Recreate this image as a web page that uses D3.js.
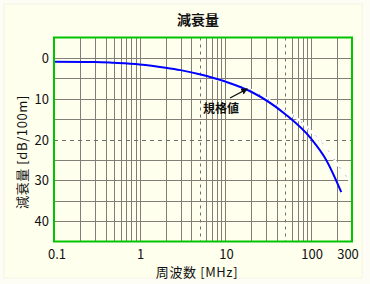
<!DOCTYPE html>
<html>
<head>
<meta charset="utf-8">
<script src="https://cdn.jsdelivr.net/npm/d3@7"></script>
<style>
  body { margin: 0; background: #fdfdf6; }
  svg { display: block; font-family: "Noto Sans CJK JP", "DejaVu Sans", sans-serif; }
</style>
</head>
<body>
<div id="chart"></div>
<script>
// measured attenuation [MHz, dB/100m]
var freq = [0.1, 0.3, 0.5, 1, 2, 3, 5, 10, 20, 50, 100, 150, 225];
var atten = [0.95, 1.0, 1.2, 1.6, 2.4, 3.0, 4.0, 5.8, 8.3, 13.8, 19.8, 25.0, 32.9];
// spec value line
var specFreq = [7, 10, 20, 30, 50, 70, 100, 150, 200, 300];
var specAtten = [5.0, 5.8, 7.9, 9.9, 13.0, 15.0, 18.0, 22.0, 25.9, 30.8];

var xTicks = [0.1, 1, 10, 100, 300];
var xTickLabels = ["0.1", "1", "10", "100", "300"];
var yTicks = [0, 10, 20, 30, 40];

var width = 370, height = 284;
var pLeft = 54, pRight = 352, pTop = 37.5, pBottom = 241.5;

var svg = d3.select("#chart").append("svg")
    .attr("width", width)
    .attr("height", height);

svg.append("rect")
    .attr("x", 4).attr("y", 4)
    .attr("width", 358).attr("height", 274)
    .attr("fill", "#ffffee")
    .attr("stroke", "#f4f4e4");

var x = d3.scaleLog().domain([0.1, 300]).range([pLeft, pRight]);
var y = d3.scaleLinear().domain([-5, 45]).range([pTop, pBottom]);

// vertical grid
var vgrid = [];
[0.1, 1, 10, 100].forEach(function(dec){
  for(var k=1;k<10;k++){ var v = dec*k; if(v > 0.1 && v < 300) vgrid.push(v); }
});
svg.selectAll(".vgrid")
    .data(vgrid)
  .enter().append("line")
    .attr("class", "vgrid")
    .attr("x1", function(d){return Math.round(x(d)) + 0.5;})
    .attr("x2", function(d){return Math.round(x(d)) + 0.5;})
    .attr("y1", pTop).attr("y2", pBottom)
    .attr("stroke", function(d){ return String(d).charAt(0) == "5" ? "#6e6e6e" : "#837d78"; })
    .attr("stroke-dasharray", function(d){ return String(d).charAt(0) == "5" ? "3,4" : null; })
    .attr("stroke-width", 1);

// horizontal grid
var hgrid = [0, 5, 10, 15, 20, 25, 30, 35, 40];
svg.selectAll(".hgrid")
    .data(hgrid)
  .enter().append("line")
    .attr("class", "hgrid")
    .attr("x1", pLeft).attr("x2", pRight)
    .attr("y1", function(d){return Math.round(y(d)) + 0.5;})
    .attr("y2", function(d){return Math.round(y(d)) + 0.5;})
    .attr("stroke", function(d){ return d == 20 ? "#6e6e6e" : "#837d78"; })
    .attr("stroke-dasharray", function(d){ return d == 20 ? "4,4" : null; })
    .attr("stroke-width", 1);

// spec line
var specPts = specFreq.map(function(f, i){ return [f, specAtten[i]]; });
var line = d3.line()
    .x(function(d){return x(d[0]);})
    .y(function(d){return y(d[1]);})
    .curve(d3.curveMonotoneX);

svg.append("path")
    .attr("d", line(specPts))
    .attr("fill", "none")
    .attr("stroke", "#ffffff")
    .attr("stroke-width", 2.5);
svg.append("path")
    .attr("d", line(specPts))
    .attr("fill", "none")
    .attr("stroke", "#555")
    .attr("stroke-width", 0.8)
    .attr("stroke-dasharray", "1,9");

// measured curve
var pts = freq.map(function(f, i){ return [f, atten[i]]; });
svg.append("path")
    .attr("d", line(pts))
    .attr("fill", "none")
    .attr("stroke", "#0000ff")
    .attr("stroke-width", 2);

// plot border
svg.append("rect")
    .attr("x", pLeft).attr("y", pTop)
    .attr("width", pRight - pLeft).attr("height", pBottom - pTop)
    .attr("fill", "none")
    .attr("stroke", "#00c400")
    .attr("stroke-width", 2);

// axes labels
svg.selectAll(".ytick")
    .data(yTicks)
  .enter().append("text")
    .attr("class", "ytick")
    .attr("x", pLeft - 5)
    .attr("y", function(d){return y(d) + 5;})
    .attr("text-anchor", "end")
    .attr("font-size", "13px")
    .attr("fill", "#111")
    .text(function(d){return d;});

svg.selectAll(".xtick")
    .data(xTicks)
  .enter().append("text")
    .attr("class", "xtick")
    .attr("x", function(d,i){ return i == 0 ? x(d) + 3 : (i == 4 ? x(d) - 4 : x(d) + 1); })
    .attr("y", pBottom + 17)
    .attr("text-anchor", "middle")
    .attr("font-size", "13px")
    .attr("fill", "#111")
    .text(function(d,i){return xTickLabels[i];});

svg.append("text")
    .attr("x", 198).attr("y", 25)
    .attr("text-anchor", "middle")
    .attr("font-size", "14px")
    .attr("font-weight", "bold")
    .attr("fill", "#111")
    .text("減衰量");

svg.append("text")
    .attr("transform", "translate(27,152) rotate(-90)")
    .attr("text-anchor", "middle")
    .attr("font-size", "13px")
    .attr("letter-spacing", "0.6px")
    .attr("fill", "#111")
    .text("減衰量 [dB/100m]");

svg.append("text")
    .attr("x", 197).attr("y", 277)
    .attr("text-anchor", "middle")
    .attr("font-size", "13px")
    .attr("letter-spacing", "0.6px")
    .attr("fill", "#111")
    .text("周波数 [MHz]");

// annotation
svg.append("defs").append("marker")
    .attr("id", "arr")
    .attr("viewBox", "0 0 10 10")
    .attr("refX", 9).attr("refY", 5)
    .attr("markerWidth", 5).attr("markerHeight", 5)
    .attr("orient", "auto")
  .append("path")
    .attr("d", "M0,0 L10,5 L0,10 z")
    .attr("fill", "#111");

svg.append("line")
    .attr("x1", 230).attr("y1", 98)
    .attr("x2", x(18)).attr("y2", y(7.6))
    .attr("stroke", "#111")
    .attr("stroke-width", 1.3)
    .attr("marker-end", "url(#arr)");

svg.append("text")
    .attr("x", 221).attr("y", 113)
    .attr("text-anchor", "middle")
    .attr("font-size", "12px")
    .attr("font-weight", "bold")
    .attr("fill", "#111")
    .text("規格値");
</script>
</body>
</html>
